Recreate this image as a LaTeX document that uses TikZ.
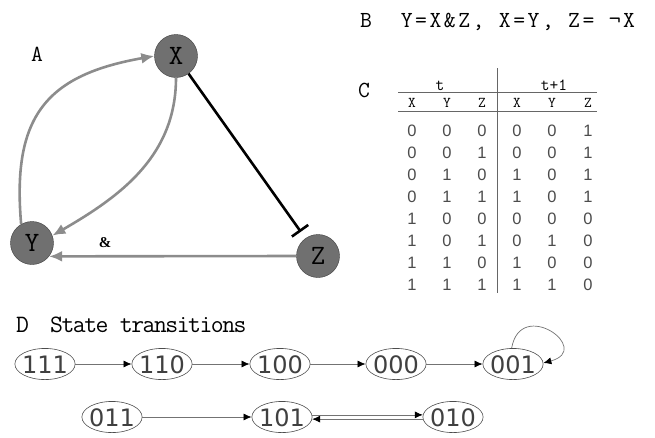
\documentclass[tikz,border=0pt]{standalone}
\usepackage{fontspec}
\usetikzlibrary{shapes.geometric,arrows.meta}
\newfontfamily\monofont{Latin Modern Mono}[LetterSpace=11]
\newfontfamily\plainmono{Latin Modern Mono}
\newfontfamily\tightmono{Latin Modern Mono}[LetterSpace=-6]
\newfontfamily\statefont{DejaVu Sans}
\newfontfamily\cellfont{Liberation Sans}
\newfontfamily\andfont{Liberation Serif}
\definecolor{linkgray}{RGB}{140,140,140}
\definecolor{genefill}{RGB}{112,112,112}
\definecolor{generim}{RGB}{60,60,60}
\tikzset{>=latex}
\tikzset{
  gene/.style={circle, draw=generim, fill=genefill, minimum size=43pt, inner sep=0pt, font=\plainmono\fontsize{28}{28}\selectfont},
  act/.style={line width=2.6pt, draw=linkgray, -{Latex[length=13pt,width=11pt]}},
  inhib/.style={line width=2.6pt, -{Bar[width=20pt,line width=2.6pt]}, shorten >=8pt},
  state/.style={ellipse, draw=black!70, line width=0.6pt, inner xsep=-1.6pt, inner ysep=2pt, text height=18pt, text depth=0pt, text=black!75, font=\statefont\fontsize{24}{24}\selectfont},
  trans/.style={draw=black!55, line width=0.7pt, -{Latex[length=8pt,width=7pt,color=black]}},
  lbl/.style={anchor=base west, inner sep=0pt, font=\monofont\fontsize{23}{23}\selectfont},
  head/.style={inner sep=0pt, font=\plainmono\fontsize{15}{15}\selectfont},
  cell/.style={inner sep=0pt, text=black!70, font=\cellfont\fontsize{16.5}{16.5}\selectfont},
  rule/.style={draw=black!60, line width=0.8pt}
}

\begin{document}
\begin{tikzpicture}[x=1pt, y=-1pt]
\useasboundingbox (0,0) rectangle (655,437);

% A: the network
\node[lbl] (labA) at (31,61) {A};
\node[gene] (X) at (176,56) {X};
\node[gene] (Y) at (32,243) {Y};
\node[gene] (Z) at (318,256) {Z};
\node[font=\andfont\bfseries\fontsize{15}{15}\selectfont] (and) at (105,243) {\&};

\draw[act] (Y.120) to[out=95, in=190, looseness=1.3] (X.west);
\draw[act] (X.south) to[out=-90, in=30] (Y.20);
\draw[act] (Z.west) -- (Y.-38);
\draw[inhib] (X) -- (Z);

% B: update rules
\node[lbl] (labB) at (360,27) {B\ \ Y=X\&Z, X=Y, Z=\ ¬X};

% C: truth table
\node[lbl] (labC) at (358,97) {C};
\node[head, anchor=base, font=\plainmono\fontsize{17}{17}\selectfont] (ht) at (440,90) {t};
\node[head, anchor=base, font=\plainmono\fontsize{17}{17}\selectfont] (ht1) at (554,90) {t+1};
\draw[rule] (398,92.7) -- (597,92.7);
\draw[rule] (398,111) -- (597,111);
\draw[rule] (497,68) -- (497,293);
\foreach \x/\v [count=\i] in {412/X,447/Y,482/Z,517/X,552/Y,588/Z}
  \node[head] (h\i) at (\x,103) {\v};
\foreach \a/\b/\c/\d/\e/\f [count=\j] in {0/0/0/0/0/1, 0/0/1/0/0/1, 0/1/0/1/0/1, 0/1/1/1/0/1,
    1/0/0/0/0/0, 1/0/1/0/1/0, 1/1/0/1/0/0, 1/1/1/1/1/0}
  \foreach \x/\v [count=\i] in {412/\a,447/\b,482/\c,517/\d,552/\e,588/\f}
    \node[cell] (r\j c\i) at (\x,{109+22*\j}) {\v};

% D: state transitions
\node[lbl, font=\plainmono\fontsize{25}{25}\selectfont] (labD) at (16,332) {D};
\node[lbl, font=\tightmono\fontsize{25}{25}\selectfont] (labDtxt) at (50,332) {State transitions};

\node[state] (s111) at (45,364) {111};
\node[state] (s110) at (162,364) {110};
\node[state] (s100) at (280,364) {100};
\node[state] (s000) at (396,364) {000};
\node[state] (s001) at (513,364) {001};
\node[state] (s011) at (112,417) {011};
\node[state] (s101) at (282,417) {101};
\node[state] (s010) at (453,417) {010};

\draw[trans] (s111) -- (s110);
\draw[trans] (s110) -- (s100);
\draw[trans] (s100) -- (s000);
\draw[trans] (s000) -- (s001);
\draw[trans] (s001.95) to[out=80, in=15, looseness=3.8] (s001.2);
\draw[trans] (s011) -- (s101);
\draw[trans] (s101.4) -- (s010.176);
\draw[trans] (s010.-176) -- (s101.-4);
\end{tikzpicture}
\end{document}
